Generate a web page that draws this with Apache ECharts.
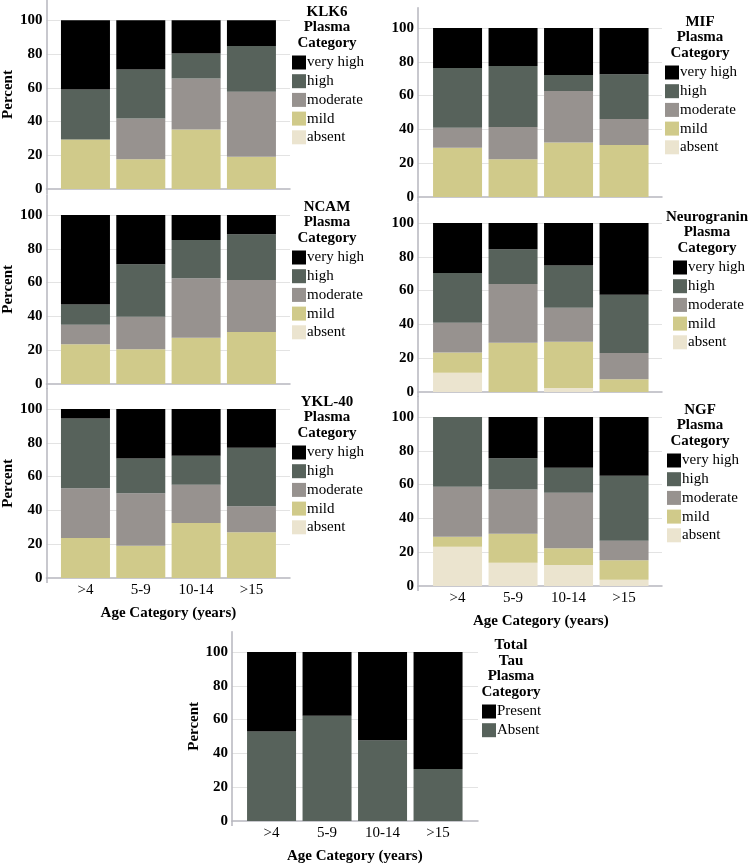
<!DOCTYPE html>
<html>
<head>
<meta charset="utf-8">
<script src="https://cdn.jsdelivr.net/npm/echarts@6/dist/echarts.min.js"></script>
<style>
  html, body { margin: 0; padding: 0; background: #fff; }
  #chart { width: 750px; height: 865px; }
</style>
</head>
<body>
<div id="chart"></div>
<script>
// categories
var ages = ['>4', '5-9', '10-14', '>15'];
var levels = ['absent', 'mild', 'moderate', 'high', 'very high'];
var tauLevels = ['Absent', 'Present'];
var yTicks = [0, 20, 40, 60, 80, 100];

// percent per age group (bottom -> top)
var klk6Absent = [0, 0, 0, 0];
var klk6Mild = [29.4, 17.6, 35.3, 19.1];
var klk6Moderate = [0, 24.2, 30.2, 38.5];
var klk6High = [29.6, 29.0, 14.8, 27.2];
var klk6VeryHigh = [41.0, 29.2, 19.7, 15.2];

var ncamAbsent = [0, 0, 0, 0];
var ncamMild = [23.5, 20.5, 27.4, 30.8];
var ncamModerate = [11.6, 19.3, 35.1, 30.7];
var ncamHigh = [12.0, 31.0, 22.7, 27.1];
var ncamVeryHigh = [52.9, 29.2, 14.8, 11.4];

var yklAbsent = [0, 0, 0, 0];
var yklMild = [23.6, 19.1, 32.5, 27.0];
var yklModerate = [29.5, 31.1, 22.6, 15.5];
var yklHigh = [41.2, 20.5, 17.3, 34.5];
var yklVeryHigh = [5.7, 29.3, 27.6, 23.0];

var mifAbsent = [0, 0, 0, 0];
var mifMild = [29.2, 22.3, 32.3, 30.8];
var mifModerate = [11.8, 19.1, 30.4, 15.4];
var mifHigh = [35.3, 36.1, 9.5, 26.4];
var mifVeryHigh = [23.7, 22.5, 27.8, 27.4];

var ngrnAbsent = [11.4, 0, 2.4, 0];
var ngrnMild = [11.9, 29.2, 27.4, 7.5];
var ngrnModerate = [17.7, 34.7, 20.1, 15.6];
var ngrnHigh = [29.4, 20.5, 25.0, 34.5];
var ngrnVeryHigh = [29.6, 15.6, 25.1, 42.4];

var ngfAbsent = [23.2, 13.8, 12.4, 3.7];
var ngfMild = [5.9, 17.1, 10.0, 11.5];
var ngfModerate = [29.6, 26.2, 32.7, 11.6];
var ngfHigh = [41.3, 18.5, 14.8, 38.4];
var ngfVeryHigh = [0, 24.4, 30.1, 34.8];

var tauAbsent = [53.0, 62.3, 47.8, 30.8];
var tauPresent = [47.0, 37.7, 52.2, 69.2];

var levelColors = {
  'absent': '#ebe4cf',
  'mild': '#d0ca8a',
  'moderate': '#97928f',
  'high': '#57625b',
  'very high': '#000000',
  'Absent': '#57625b',
  'Present': '#000000'
};

var serif = "'Liberation Serif', 'DejaVu Serif', serif";
var axisColor = '#b6b6be';
var gridColor = '#e3e3e3';
var plotH = 189.3;   // 0..112 percent
var yMax = 112;

var panels = [
  { title: 'KLK6\nPlasma\nCategory', names: levels,
    values: [klk6Absent, klk6Mild, klk6Moderate, klk6High, klk6VeryHigh],
    frameLeft: 45, frameW: 245, barLeft: 57.8, barW: 221.3, y0: 189,
    percent: true, xlab: false, legX: 292, legY: 62, titleX: 327 },
  { title: 'NCAM\nPlasma\nCategory', names: levels,
    values: [ncamAbsent, ncamMild, ncamModerate, ncamHigh, ncamVeryHigh],
    frameLeft: 45, frameW: 245, barLeft: 57.8, barW: 221.3, y0: 384,
    percent: true, xlab: false, legX: 292, legY: 257, titleX: 327 },
  { title: 'YKL-40\nPlasma\nCategory', names: levels,
    values: [yklAbsent, yklMild, yklModerate, yklHigh, yklVeryHigh],
    frameLeft: 45, frameW: 245, barLeft: 57.8, barW: 221.3, y0: 578,
    percent: true, xlab: true, legX: 292, legY: 452, titleX: 327 },
  { title: 'MIF\nPlasma\nCategory', names: levels,
    values: [mifAbsent, mifMild, mifModerate, mifHigh, mifVeryHigh],
    frameLeft: 418, frameW: 244, barLeft: 429.8, barW: 222, y0: 197,
    percent: false, xlab: false, legX: 665, legY: 72, titleX: 700 },
  { title: 'Neurogranin\nPlasma\nCategory', names: levels,
    values: [ngrnAbsent, ngrnMild, ngrnModerate, ngrnHigh, ngrnVeryHigh],
    frameLeft: 418, frameW: 244, barLeft: 429.8, barW: 222, y0: 392,
    percent: false, xlab: false, legX: 673, legY: 267, titleX: 707 },
  { title: 'NGF\nPlasma\nCategory', names: levels,
    values: [ngfAbsent, ngfMild, ngfModerate, ngfHigh, ngfVeryHigh],
    frameLeft: 418, frameW: 244, barLeft: 429.8, barW: 222, y0: 586,
    percent: false, xlab: true, legX: 667, legY: 460, titleX: 700 },
  { title: 'Total\nTau\nPlasma\nCategory', names: tauLevels,
    values: [tauAbsent, tauPresent],
    frameLeft: 232, frameW: 246, barLeft: 243.8, barW: 222, y0: 821,
    percent: true, xlab: true, legX: 482, legY: 711, titleX: 511 }
];

var grids = [], xAxes = [], yAxes = [], series = [], legends = [], texts = [];

panels.forEach(function (p, i) {
  var top = p.y0 - plotH;
  var fi = 2 * i, bi = 2 * i + 1;

  // frame grid: axis lines, gridlines, y labels
  grids.push({ left: p.frameLeft, top: top, width: p.frameW, height: plotH });
  // bar grid: narrower, holds the bars and category labels
  grids.push({ left: p.barLeft, top: top, width: p.barW, height: plotH });

  xAxes.push({
    type: 'value', gridIndex: fi, min: 0, max: 1,
    axisLine: { show: true, lineStyle: { color: axisColor, width: 1.5 } },
    axisTick: { show: true, customValues: [0], length: 5, lineStyle: { color: axisColor, width: 1.5 } },
    axisLabel: { show: false },
    splitLine: { show: false }
  });
  xAxes.push({
    type: 'category', gridIndex: bi, data: ages,
    axisLine: { show: false }, axisTick: { show: false },
    axisLabel: { show: p.xlab, margin: 5, fontFamily: serif, fontSize: 15, color: '#000' },
    name: p.xlab ? 'Age Category (years)' : '',
    nameLocation: 'middle', nameGap: 28,
    nameTextStyle: { fontFamily: serif, fontSize: 15, fontWeight: 'bold', color: '#000' }
  });

  yAxes.push({
    type: 'value', gridIndex: fi, min: 0, max: yMax, interval: 20,
    axisLine: { show: true, lineStyle: { color: axisColor, width: 1.5 } },
    axisTick: { show: false },
    axisLabel: { customValues: yTicks, margin: 4, fontFamily: serif, fontSize: 15, fontWeight: 'bold', color: '#000' },
    splitLine: { show: true, showMaxLine: false, showMinLine: false, lineStyle: { color: gridColor, width: 1 } },
    name: p.percent ? 'Percent' : '',
    nameLocation: 'middle', nameGap: 29,
    nameTextStyle: { fontFamily: serif, fontSize: 15, fontWeight: 'bold', color: '#000' }
  });
  yAxes.push({ type: 'value', gridIndex: bi, min: 0, max: yMax, show: false });

  p.names.forEach(function (nm, j) {
    series.push({
      type: 'bar', name: nm,
      xAxisIndex: bi, yAxisIndex: bi,
      stack: 'panel' + i,
      barWidth: 49,
      data: p.values[j],
      itemStyle: { color: levelColors[nm] },
      emphasis: { disabled: true }
    });
  });

  legends.push({
    orient: 'vertical', left: p.legX, top: p.legY - 7, padding: 0,
    icon: 'rect', itemWidth: 14, itemHeight: 14, itemGap: 3.7,
    selectedMode: false,
    data: p.names.slice().reverse(),
    textStyle: { fontFamily: serif, fontSize: 15, color: '#000', lineHeight: 14, padding: [0, 0, 0, -4] }
  });

  texts.push({
    type: 'text', x: p.titleX, y: p.legY - 11,
    style: {
      text: p.title, fill: '#000',
      font: 'bold 15px ' + serif,
      lineHeight: 15.7,
      textAlign: 'center', textVerticalAlign: 'bottom'
    }
  });
});

var chart = echarts.init(document.getElementById('chart'), null, { renderer: 'canvas' });
chart.setOption({
  animation: false,
  backgroundColor: '#fff',
  grid: grids,
  xAxis: xAxes,
  yAxis: yAxes,
  legend: legends,
  series: series,
  graphic: texts
});
</script>
</body>
</html>
